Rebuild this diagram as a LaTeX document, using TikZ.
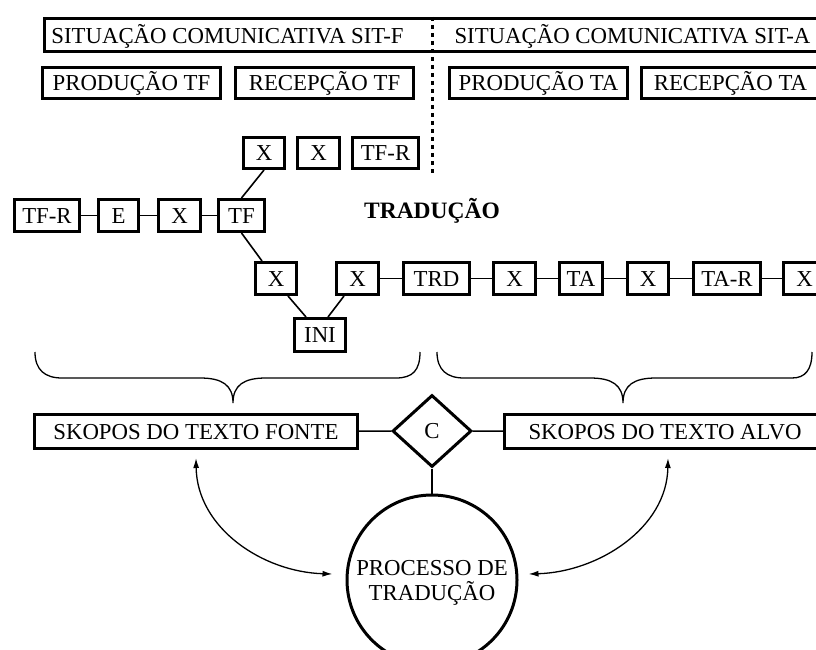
\documentclass[tikz,border=0pt]{standalone}
\usepackage{fontspec}
\setmainfont{Liberation Serif}
\usetikzlibrary{shapes.geometric,arrows.meta}
\begin{document}
\begin{tikzpicture}[x=1pt,y=-1pt,
  every node/.style={font=\fontsize{22.8}{25}\selectfont, inner sep=0pt},
  lbl/.style={text height=15pt, text depth=0pt},
  box/.style={draw, line width=3pt, rectangle, minimum height=31pt, text height=15pt, text depth=0pt},
  link/.style={line width=1.6pt},
  brace/.style={line width=1.3pt},
  arr/.style={line width=1.3pt, {Latex[length=10pt,width=6pt]}-{Latex[length=10pt,width=6pt]}}]
\useasboundingbox (0,0) rectangle (816,650);
\clip (0,0) rectangle (816,650);

% top row
\node[box, minimum width=800pt, minimum height=33pt, anchor=west] (sit) at (42.5,35) {};
\node[lbl] (sitf) at (227.5,36) {SITUAÇÃO COMUNICATIVA SIT-F};
\node[lbl] (sita) at (632.5,36) {SITUAÇÃO COMUNICATIVA SIT-A};
\coordinate (dtop) at (432,17);
\coordinate (dbot) at (432,176);
\draw[line width=3pt, dash pattern=on 4pt off 4pt] (dtop) -- (dbot);

% second row
\node[box, minimum width=178pt] (ptf) at (131.5,83) {PRODUÇÃO TF};
\node[box, minimum width=178pt] (rtf) at (324.5,83) {RECEPÇÃO TF};
\node[box, minimum width=178pt] (pta) at (538.5,83) {PRODUÇÃO TA};
\node[box, minimum width=178pt] (rta) at (730.5,83) {RECEPÇÃO TA};

% third row
\node[box, minimum width=41pt] (xa) at (264,153) {X};
\node[box, minimum width=42pt] (xb) at (318.5,153) {X};
\node[box, minimum width=66pt] (tfra) at (385.5,153) {TF-R};

% fourth row
\node[box, minimum width=65pt, minimum height=32pt] (tfrb) at (47,215.5) {TF-R};
\node[box, minimum width=40pt, minimum height=32pt] (e) at (118.5,215.5) {E};
\node[box, minimum width=42pt, minimum height=32pt] (xc) at (179.5,215.5) {X};
\node[box, minimum width=46pt, minimum height=32pt] (tf) at (241.5,215.5) {TF};
\node[lbl, font=\fontsize{23.5}{25}\selectfont\bfseries] (trad) at (432,211) {TRADUÇÃO};

% fifth row
\node[box, minimum width=41pt, minimum height=32pt] (xd) at (276,278.5) {X};
\node[box, minimum width=42pt, minimum height=32pt] (xe) at (357.5,278.5) {X};
\node[box, minimum width=66pt, minimum height=32pt] (trd) at (436.5,278.5) {TRD};
\node[box, minimum width=42pt, minimum height=32pt] (xf) at (514.5,278.5) {X};
\node[box, minimum width=43pt, minimum height=32pt] (ta) at (581,278.5) {TA};
\node[box, minimum width=41pt, minimum height=32pt] (xg) at (648,278.5) {X};
\node[box, minimum width=67pt, minimum height=32pt] (tar) at (727,278.5) {TA-R};
\node[box, minimum width=42pt, minimum height=32pt] (xh) at (804.5,278.5) {X};
\node[box, minimum width=51pt, minimum height=33pt] (ini) at (320,335) {INI};

% connectors
\draw[link] (tfrb) -- (e);
\draw[link] (e) -- (xc);
\draw[link] (xc) -- (tf);
\draw[link] (tf.north) -- (xa.south);
\draw[link] (tf.south) -- ([xshift=8pt]xd.north west);
\draw[link] ([xshift=34pt]xd.south west) -- ([xshift=13pt]ini.north west);
\draw[link] ([xshift=9pt]xe.south west) -- ([xshift=35pt]ini.north west);
\draw[link] (xe) -- (trd);
\draw[link] (trd) -- (xf);
\draw[link] (xf) -- (ta);
\draw[link] (ta) -- (xg);
\draw[link] (xg) -- (tar);
\draw[link] (tar) -- (xh);

% braces
\draw[brace] (35,352) .. controls (35,370) and (45,378) .. (62,378) -- (200,378)
  .. controls (222,378) and (233,385) .. (233,403)
  .. controls (233,385) and (244,378) .. (266,378) -- (396,378)
  .. controls (413,378) and (420,370) .. (420,352);
\draw[brace] (437,352) .. controls (437,370) and (447,378) .. (464,378) -- (590,378)
  .. controls (612,378) and (623,385) .. (623,403)
  .. controls (623,385) and (634,378) .. (656,378) -- (792,378)
  .. controls (805,378) and (812,370) .. (812,352);

% bottom
\node[box, minimum width=323pt, minimum height=34pt] (fonte) at (196,431.5) {SKOPOS DO TEXTO FONTE};
\node[box, minimum width=321pt, minimum height=34pt] (alvo) at (665,431.5) {SKOPOS DO TEXTO ALVO};
\node[diamond, draw, line width=3pt, minimum width=79pt, minimum height=72pt, text height=15pt, text depth=0pt] (c) at (432,431) {C};
\node[circle, draw, line width=3pt, minimum size=170pt] (proc) at (432,580) {};
\node[lbl] (p1) at (432,568) {PROCESSO DE};
\node[lbl] (p2) at (432,593) {TRADUÇÃO};

\draw[link] (fonte) -- (c);
\draw[link] (c) -- (alvo);
\draw[link] (c) -- (proc);

\draw[arr] ([yshift=-8pt]fonte.south) .. controls +(1,70) and +(-70,-2) .. ([xshift=-13pt,yshift=6pt]proc.west);
\draw[arr] ([xshift=3pt,yshift=-8pt]alvo.south) .. controls +(-1,70) and +(70,-2) .. ([xshift=10pt,yshift=6pt]proc.east);
\end{tikzpicture}
\end{document}
